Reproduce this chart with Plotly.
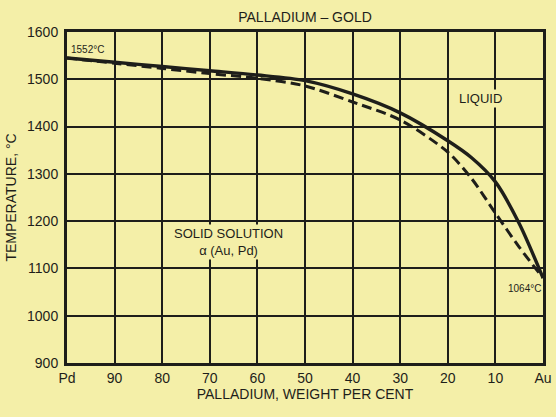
import plotly.graph_objects as go

# Data
pd_wt = [100, 90, 80, 70, 60, 50, 40, 30, 20, 15, 10, 5, 0]
liquidus = [1545, 1536, 1527, 1518, 1509, 1497, 1469, 1429, 1370, 1334, 1283, 1195, 1080]
solidus = [1545, 1534, 1523, 1512, 1502, 1486, 1452, 1414, 1346, 1290, 1217, 1145, 1080]

x_ticks = [100, 90, 80, 70, 60, 50, 40, 30, 20, 10, 0]
x_ticktext = ["Pd", "90", "80", "70", "60", "50", "40", "30", "20", "10", "Au"]
y_ticks = [900, 1000, 1100, 1200, 1300, 1400, 1500, 1600]

BG = "#F4EFA8"
INK = "#1e1e1a"
FONT = "Liberation Sans, Arial, sans-serif"

fig = go.Figure()
fig.add_trace(go.Scatter(x=pd_wt, y=solidus, mode="lines",
                         line=dict(color=INK, width=3, dash="10px,5px", shape="spline", smoothing=0.8),
                         hoverinfo="skip", showlegend=False))
fig.add_trace(go.Scatter(x=pd_wt, y=liquidus, mode="lines",
                         line=dict(color=INK, width=3.4, shape="spline", smoothing=0.8),
                         hoverinfo="skip", showlegend=False))

fig.add_annotation(x=100, y=1552, text="1552°C", xanchor="left", yanchor="bottom",
                   showarrow=False, xshift=2, yshift=-2, font=dict(size=10, color=INK))
fig.add_annotation(x=0, y=1064, text="1064°C", xanchor="right", yanchor="middle",
                   showarrow=False, xshift=-1, yshift=-3, bgcolor=BG, borderpad=0,
                   font=dict(size=10, color=INK))
fig.add_annotation(x=13.2, y=1460, text="LIQUID", showarrow=False, bgcolor=BG, borderpad=1,
                   font=dict(size=13, color=INK))
fig.add_annotation(x=66, y=1155, text="SOLID SOLUTION<br>α (Au, Pd)", showarrow=False,
                   bgcolor=BG, borderpad=1, font=dict(size=13, color=INK))

fig.update_layout(
    width=556, height=417,
    margin=dict(l=67, r=13, t=32, b=54),
    paper_bgcolor=BG, plot_bgcolor=BG,
    font=dict(family=FONT, color=INK, size=14),
    title=dict(text="PALLADIUM – GOLD", x=0.5486, xanchor="center", y=0.96, yanchor="middle",
               font=dict(size=14, color=INK)),
    xaxis=dict(range=[100, 0], tickvals=x_ticks, ticktext=x_ticktext,
               showgrid=True, gridcolor=INK, gridwidth=2,
               showline=True, linecolor=INK, linewidth=3, mirror=True,
               ticks="", zeroline=False, automargin=False,
               title=dict(text="PALLADIUM, WEIGHT PER CENT", standoff=2, font=dict(size=14))),
    yaxis=dict(range=[900, 1600], tickvals=y_ticks,
               showgrid=True, gridcolor=INK, gridwidth=2,
               showline=True, linecolor=INK, linewidth=3, mirror=True,
               ticks="", zeroline=False, ticklabelstandoff=3, automargin=False,
               title=dict(text="TEMPERATURE, °C", standoff=8, font=dict(size=14))),
)

fig.write_html("out.html", config={"displayModeBar": False},
               post_script="document.body.style.margin='0';document.body.style.overflow='hidden';")
